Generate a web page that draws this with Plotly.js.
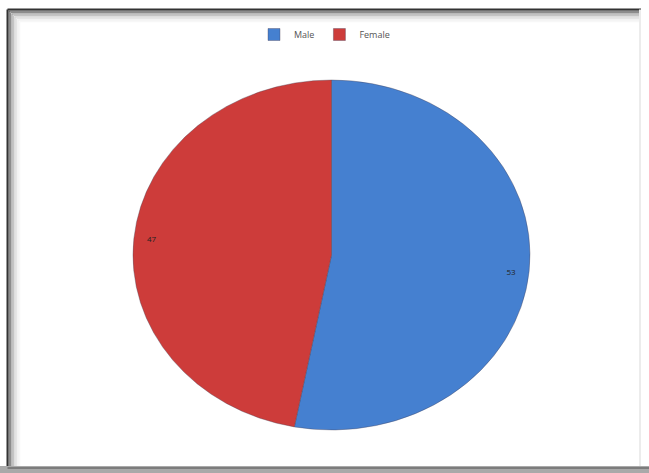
<!DOCTYPE html>
<html>
<head>
<meta charset="utf-8">
<script src="https://cdn.plot.ly/plotly-3.0.1.min.js"></script>
<style>html,body{margin:0;padding:0;background:#fff}#chart{width:649px;height:473px}</style>
</head>
<body>
<div id="chart"></div>
<script>
const categories = ["Male", "Female"];
const values = [53, 47];
const colors = ["#4580d0", "#cd3c3a"];

const W = 649, H = 473;
const cx = 331.5, cy = 255, R = 186;
const RX = 198.5, RY = 175;
function domainFor(r) {
  return {
    x: [(cx - r) / W, (cx + r) / W],
    y: [1 - (cy + r) / H, 1 - (cy - r) / H]
  };
}

const pieMain = {
  type: "pie",
  labels: categories,
  values: values,
  sort: false,
  direction: "clockwise",
  rotation: 0,
  domain: domainFor(R),
  marker: { colors: colors, line: { color: "rgba(70,60,80,0.6)", width: 0.6 } },
  textinfo: "none",
  hoverinfo: "label+value",
  showlegend: true
};

const pieLabels = {
  type: "pie",
  labels: categories,
  values: values,
  sort: false,
  direction: "clockwise",
  rotation: 0,
  hole: 0.82,
  domain: domainFor(RX),
  marker: { colors: ["rgba(0,0,0,0)", "rgba(0,0,0,0)"], line: { width: 0 } },
  textinfo: "value",
  textposition: "inside",
  insidetextorientation: "horizontal",
  textfont: { family: "Open Sans, sans-serif", size: 8, color: "#222" },
  hoverinfo: "skip",
  showlegend: false
};

// frame: dark top/left edges with inner shadow, grey band at bottom
const shapes = [];
const fade = ["#333333", "#666666", "#8c8c8c", "#ababab", "#c4c4c4", "#d7d7d7", "#e5e5e5", "#efefef", "#f7f7f7"];
const L = 7.5, T = 9.5, Rr = 641, B = 466;
fade.forEach((c, i) => {
  const w = i === 0 ? 2 : 1.5;
  shapes.push({ type: "line", xref: "paper", yref: "paper",
    x0: (L + i * 1.5) / W, x1: (L + i * 1.5) / W, y0: 1 - (T + i * 1.5) / H, y1: 1 - B / H,
    line: { color: c, width: w }, layer: "below" });
  shapes.push({ type: "line", xref: "paper", yref: "paper",
    x0: (L + i * 1.5) / W, x1: Rr / W, y0: 1 - (T + i * 1.5) / H, y1: 1 - (T + i * 1.5) / H,
    line: { color: c, width: w }, layer: "below" });
});
shapes.push({ type: "line", xref: "paper", yref: "paper",
  x0: (Rr - 1) / W, x1: (Rr - 1) / W, y0: 1 - T / H, y1: 1 - B / H,
  line: { color: "#ececec", width: 2 }, layer: "below" });
shapes.push({ type: "rect", xref: "paper", yref: "paper",
  x0: 0, x1: 1, y0: 0, y1: 1 - B / H,
  fillcolor: "#a9a9a9", line: { width: 0 }, layer: "below" });
shapes.push({ type: "line", xref: "paper", yref: "paper",
  x0: L / W, x1: 1, y0: 1 - (B + 2) / H, y1: 1 - (B + 2) / H,
  line: { color: "#6e6e6e", width: 1.5 }, layer: "below" });

const layout = {
  width: W, height: H,
  margin: { l: 0, r: 0, t: 0, b: 0 },
  paper_bgcolor: "#ffffff",
  showlegend: true,
  legend: {
    orientation: "h", x: 0.5, xanchor: "center", y: 1 - 20 / H, yanchor: "top",
    bgcolor: "rgba(0,0,0,0)",
    font: { family: "Open Sans, sans-serif", size: 9, color: "#555" },
    itemwidth: 30, traceorder: "normal"
  },
  shapes: shapes
};

Plotly.newPlot("chart", [pieMain, pieLabels], layout, { displayModeBar: false, staticPlot: true })
  .then(function (gd) {
    // the reference pie is drawn as an ellipse: stretch the slice group
    const tr = gd.querySelector(".pielayer .trace");
    if (tr) {
      const sx = RX / R, sy = RY / R;
      tr.setAttribute("transform",
        "translate(" + cx + "," + cy + ") scale(" + sx + "," + sy + ") translate(" + (-cx) + "," + (-cy) + ")");
    }
  });
</script>
</body>
</html>
